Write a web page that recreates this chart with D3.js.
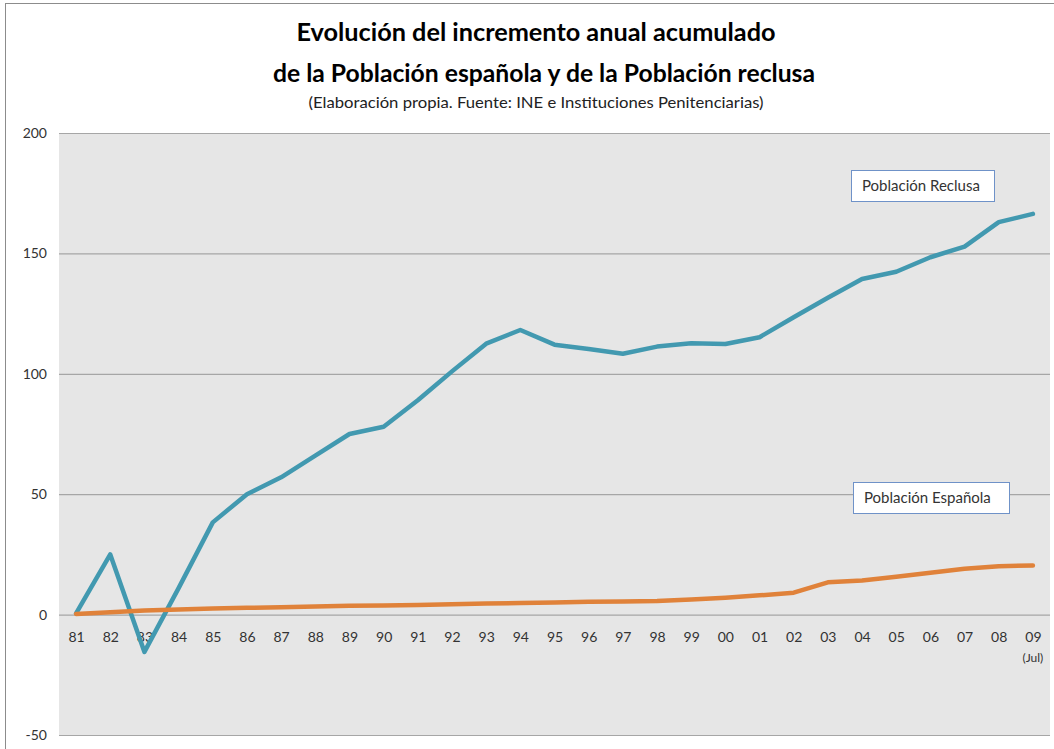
<html>
<head>
<meta charset="utf-8">
<style>
  body { margin: 0; background: #fff; }
  text { font-family: Lato, "Open Sans", sans-serif; }
</style>
</head>
<body>
<script src="https://d3js.org/d3.v7.min.js"></script>
<div id="chart"></div>
<script>
// years (x categories)
const years = ["81","82","83","84","85","86","87","88","89","90","91","92","93","94","95",
               "96","97","98","99","00","01","02","03","04","05","06","07","08","09"];
// incremento acumulado, poblacion reclusa
const reclusa = [0.5, 25, -15.5, 11, 38.3, 50, 57, 66, 75, 78, 89, 101, 112.5, 118.2, 112.1,
                 110.3, 108.3, 111.3, 112.7, 112.4, 115.2, 123.5, 131.6, 139.4, 142.4, 148.4, 152.8, 163, 166.4];
// incremento acumulado, poblacion espanola
const espanola = [0.3, 1.0, 1.7, 2.1, 2.5, 2.8, 3.1, 3.4, 3.7, 3.8, 4.0, 4.3, 4.6, 4.8, 5.0,
                  5.3, 5.4, 5.6, 6.3, 7.0, 8.0, 9.1, 13.4, 14.2, 15.7, 17.4, 19.0, 20.1, 20.4];
const yTicks = [-50, 0, 50, 100, 150, 200];

const width = 1054, height = 749;
const plotLeft = 59, plotRight = 1050, plotTop = 133, plotBottom = 735;

var svg = d3.select("#chart").append("svg")
  .attr("width", width)
  .attr("height", height);

// outer frame
svg.append("rect")
  .attr("x", 5.5).attr("y", 3.5)
  .attr("width", 1060).attr("height", 760)
  .style("fill", "none").style("stroke", "#8c8c8c").style("stroke-width", 1);

// titles
svg.append("text").attr("x", 536).attr("y", 41)
  .attr("text-anchor", "middle")
  .style("font-size", "25px").style("font-weight", "bold").style("fill", "#000")
  .attr("textLength", 479).attr("lengthAdjust", "spacingAndGlyphs")
  .text("Evolución del incremento anual acumulado");
svg.append("text").attr("x", 544).attr("y", 82)
  .attr("text-anchor", "middle")
  .style("font-size", "25px").style("font-weight", "bold").style("fill", "#000")
  .attr("textLength", 542).attr("lengthAdjust", "spacingAndGlyphs")
  .text("de la Población española y de la Población reclusa");
svg.append("text").attr("x", 536).attr("y", 108)
  .attr("text-anchor", "middle")
  .style("font-size", "15px").style("fill", "#222")
  .attr("textLength", 455).attr("lengthAdjust", "spacingAndGlyphs")
  .text("(Elaboración propia. Fuente: INE e Instituciones Penitenciarias)");

// scales
let x = d3.scalePoint().domain(years).range([plotLeft, plotRight]).padding(0.5);
let y = d3.scaleLinear().domain([-50, 200]).range([plotBottom, plotTop]);

// plot background
svg.append("rect")
  .attr("x", plotLeft).attr("y", plotTop)
  .attr("width", plotRight - plotLeft).attr("height", plotBottom - plotTop)
  .style("fill", "#e6e6e6");

// gridlines + y labels
let yAxis = svg.append("g")
  .attr("transform", "translate(" + plotLeft + ",0)")
  .call(d3.axisLeft(y).tickValues(yTicks).tickSize(-(plotRight - plotLeft)).tickPadding(12).tickFormat(d => String(d)));
yAxis.select(".domain").remove();
yAxis.selectAll(".tick line").style("stroke", "#a6a6a6").style("stroke-width", 1.2);
yAxis.selectAll(".tick text")
  .style("font-size", "14px").style("fill", "#333")
  .style("font-family", "Lato, 'Open Sans', sans-serif");

// x labels (under the zero line)
let xAxis = svg.append("g")
  .attr("transform", "translate(0," + y(0) + ")")
  .call(d3.axisBottom(x).tickSize(0).tickPadding(17));
xAxis.select(".domain").remove();
xAxis.selectAll(".tick text")
  .style("font-size", "14px").style("fill", "#333")
  .style("font-family", "Lato, 'Open Sans', sans-serif");
svg.append("text")
  .attr("x", x("09")).attr("y", y(0) + 47)
  .attr("text-anchor", "middle")
  .style("font-size", "12px").style("fill", "#333")
  .text("(Jul)");

// lines
let line = d3.line()
  .x((d, i) => x(years[i]))
  .y(d => y(d));

svg.append("path")
  .datum(reclusa)
  .attr("d", line)
  .style("fill", "none")
  .style("stroke", "#4299b0")
  .style("stroke-width", 4.5)
  .style("stroke-linejoin", "round")
  .style("stroke-linecap", "round");

svg.append("path")
  .datum(espanola)
  .attr("d", line)
  .style("fill", "none")
  .style("stroke", "#e0823a")
  .style("stroke-width", 4.5)
  .style("stroke-linejoin", "round")
  .style("stroke-linecap", "round");

// series labels
function labelBox(bx, by, w, txt) {
  svg.append("rect")
    .attr("x", bx + 0.5).attr("y", by + 0.5)
    .attr("width", w).attr("height", 31)
    .style("fill", "#fff").style("stroke", "#6f92c8").style("stroke-width", 1);
  svg.append("text")
    .attr("x", bx + 11).attr("y", by + 21)
    .style("font-size", "15px").style("fill", "#333")
    .text(txt);
}
labelBox(851, 170, 143, "Población Reclusa");
labelBox(853, 482, 156, "Población Española");
</script>
</body>
</html>
